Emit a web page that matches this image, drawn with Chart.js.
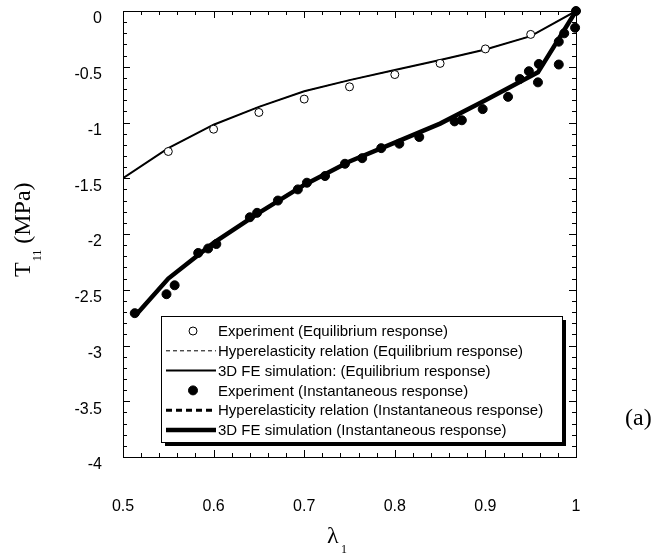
<!DOCTYPE html>
<html>
<head>
<meta charset="utf-8">
<script src="https://cdn.jsdelivr.net/npm/chart.js@4/dist/chart.umd.min.js"></script>
<style>
  body { margin: 0; background: #fff; }
  #wrap { width: 668px; height: 558px; }
</style>
</head>
<body>
<div id="wrap"><canvas id="stressChart" width="668" height="558"></canvas></div>
<script>
// Equilibrium response
var lambdaEqExp = [0.55, 0.6, 0.65, 0.7, 0.75, 0.8, 0.85, 0.9, 0.95, 1.0];
var stressEqExp = [-1.26, -1.06, -0.91, -0.79, -0.68, -0.57, -0.47, -0.34, -0.21, 0];

var lambdaEqSim = [0.5, 0.55, 0.6, 0.65, 0.7, 0.75, 0.8, 0.85, 0.9, 0.95, 1.0];
var stressEqHyper = [-1.5, -1.23, -1.02, -0.86, -0.72, -0.62, -0.53, -0.44, -0.345, -0.225, 0];
var stressEqFE = [-1.5, -1.23, -1.02, -0.86, -0.72, -0.62, -0.53, -0.44, -0.345, -0.225, 0];

// Instantaneous response
var lambdaInExp = [0.513, 0.548, 0.557, 0.583, 0.594, 0.603, 0.64, 0.648, 0.671, 0.693, 0.703,
                   0.723, 0.745, 0.764, 0.785, 0.805, 0.827, 0.866, 0.874, 0.897, 0.925, 0.938,
                   0.948, 0.958, 0.959, 0.981, 0.981, 0.987, 0.999, 1.0];
var stressInExp = [-2.71, -2.54, -2.46, -2.17, -2.13, -2.09, -1.85, -1.81, -1.70, -1.60, -1.54,
                   -1.48, -1.37, -1.32, -1.23, -1.19, -1.13, -0.99, -0.98, -0.88, -0.77, -0.61,
                   -0.54, -0.64, -0.475, -0.48, -0.275, -0.2, -0.15, 0];

var lambdaInSim = [0.515, 0.55, 0.6, 0.65, 0.7, 0.75, 0.8, 0.85, 0.9, 0.958, 1.0];
var stressInHyper = [-2.72, -2.40, -2.08, -1.81, -1.56, -1.35, -1.18, -1.01, -0.80, -0.55, 0];
var stressInFE = [-2.72, -2.40, -2.08, -1.81, -1.56, -1.35, -1.18, -1.01, -0.80, -0.55, 0];

var legendLabels = [
    'Experiment (Equilibrium response)',
    'Hyperelasticity relation (Equilibrium response)',
    '3D FE simulation: (Equilibrium response)',
    'Experiment (Instantaneous response)',
    'Hyperelasticity relation (Instantaneous response)',
    '3D FE simulation (Instantaneous response)'
];

function toPoints(xs, ys) {
    return xs.map((x, i) => ({ x: x, y: ys[i] }));
}

function fmt(v) {
    return String(parseFloat(Number(v).toFixed(2)));
}

// frame, inward ticks, axis titles, "(a)"
var framePlugin = {
    id: 'frame',
    afterDraw(chart) {
        var ctx = chart.ctx, a = chart.chartArea;
        var xs = chart.scales.x, ys = chart.scales.y;
        ctx.save();
        ctx.strokeStyle = '#000';
        ctx.lineWidth = 1;
        ctx.strokeRect(a.left + 0.5, a.top + 0.5, a.right - a.left, a.bottom - a.top);
        ctx.beginPath();
        for (var i = 0; i <= 25; i++) {
            var v = 0.5 + i * 0.02;
            var px = Math.round(xs.getPixelForValue(v)) + 0.5;
            var len = (i % 5 === 0) ? 7 : 4;
            ctx.moveTo(px, a.bottom); ctx.lineTo(px, a.bottom - len);
            ctx.moveTo(px, a.top); ctx.lineTo(px, a.top + len);
        }
        for (var j = 0; j <= 40; j++) {
            var w = -j * 0.1;
            var py = Math.round(ys.getPixelForValue(w)) + 0.5;
            var l2 = (j % 5 === 0) ? 7 : 4;
            ctx.moveTo(a.left, py); ctx.lineTo(a.left + l2, py);
            ctx.moveTo(a.right, py); ctx.lineTo(a.right - l2, py);
        }
        ctx.stroke();

        ctx.fillStyle = '#000';
        // x title
        ctx.font = '24px "Liberation Serif", "Times New Roman", serif';
        ctx.textBaseline = 'alphabetic';
        ctx.textAlign = 'left';
        ctx.fillText('\u03bb', 327, 543);
        ctx.font = '12px "Liberation Serif", "Times New Roman", serif';
        ctx.fillText('1', 341, 553);

        // y title
        ctx.save();
        ctx.translate(30, 277);
        ctx.rotate(-Math.PI / 2);
        ctx.font = '24px "Liberation Serif", "Times New Roman", serif';
        ctx.fillText('T', 0, 0);
        var tw = ctx.measureText('T').width;
        ctx.font = '12px "Liberation Serif", "Times New Roman", serif';
        ctx.fillText('11', tw + 1, 11);
        var sw = ctx.measureText('11').width;
        ctx.font = '24px "Liberation Serif", "Times New Roman", serif';
        ctx.fillText('(MPa)', tw + sw + 7, 0);
        ctx.restore();

        ctx.font = '24px "Liberation Serif", "Times New Roman", serif';
        ctx.fillText('(a)', 625, 425);
        ctx.restore();
    }
};

// boxed legend inside the plot, with drop shadow
var boxLegendPlugin = {
    id: 'boxLegend',
    afterDatasetsDraw(chart) {
        var ctx = chart.ctx;
        var bx = 161, by = 316, bw = 401, bh = 126;
        ctx.save();
        ctx.fillStyle = '#000';
        ctx.fillRect(bx + 4, by + 4, bw, bh);
        ctx.fillStyle = '#fff';
        ctx.fillRect(bx, by, bw, bh);
        ctx.strokeStyle = '#000';
        ctx.lineWidth = 1;
        ctx.strokeRect(bx + 0.5, by + 0.5, bw, bh);

        ctx.font = '15px "Liberation Sans", Arial, sans-serif';
        ctx.textBaseline = 'middle';
        chart.data.datasets.forEach((ds, i) => {
            var y = by + 15 + i * 19.8;
            if (ds.showLine) {
                ctx.beginPath();
                ctx.lineWidth = ds.borderWidth;
                ctx.setLineDash(ds.borderDash || []);
                ctx.moveTo(166, y);
                ctx.lineTo(216, y);
                ctx.strokeStyle = '#000';
                ctx.stroke();
                ctx.setLineDash([]);
            } else {
                ctx.beginPath();
                ctx.arc(193, y, ds.pointRadius, 0, Math.PI * 2);
                ctx.fillStyle = ds.pointBackgroundColor;
                ctx.fill();
                ctx.lineWidth = 1;
                ctx.strokeStyle = '#000';
                ctx.stroke();
            }
            ctx.fillStyle = '#000';
            ctx.fillText(ds.label, 218, y + 1);
        });
        ctx.restore();
    }
};

var ctx = document.getElementById('stressChart').getContext('2d');
new Chart(ctx, {
    type: 'scatter',
    data: {
        datasets: [{
            label: legendLabels[0],
            data: toPoints(lambdaEqExp, stressEqExp),
            pointRadius: 4,
            pointBackgroundColor: '#fff',
            pointBorderColor: '#000',
            pointBorderWidth: 1,
            showLine: false,
            clip: false,
            order: 2
        }, {
            label: legendLabels[1],
            data: toPoints(lambdaEqSim, stressEqHyper),
            showLine: true,
            borderColor: '#000',
            borderWidth: 1,
            borderDash: [4, 3],
            pointRadius: 0,
            tension: 0,
            order: 3
        }, {
            label: legendLabels[2],
            data: toPoints(lambdaEqSim, stressEqFE),
            showLine: true,
            borderColor: '#000',
            borderWidth: 2,
            pointRadius: 0,
            tension: 0,
            order: 3
        }, {
            label: legendLabels[3],
            data: toPoints(lambdaInExp, stressInExp),
            pointRadius: 4.5,
            pointBackgroundColor: '#000',
            pointBorderColor: '#000',
            pointBorderWidth: 1,
            showLine: false,
            clip: false,
            order: 0
        }, {
            label: legendLabels[4],
            data: toPoints(lambdaInSim, stressInHyper),
            showLine: true,
            borderColor: '#000',
            borderWidth: 3,
            borderDash: [6, 4],
            pointRadius: 0,
            tension: 0,
            order: 1
        }, {
            label: legendLabels[5],
            data: toPoints(lambdaInSim, stressInFE),
            showLine: true,
            borderColor: '#000',
            borderWidth: 4.5,
            pointRadius: 0,
            tension: 0,
            clip: false,
            order: 1
        }]
    },
    options: {
        responsive: false,
        animation: false,
        layout: {
            padding: { left: 0, top: 11, right: 92, bottom: 0 }
        },
        scales: {
            x: {
                type: 'linear',
                min: 0.5,
                max: 1,
                afterFit: (s) => { s.height = 101; s.paddingLeft = 0; s.paddingRight = 0; },
                grid: { display: false },
                border: { display: false },
                ticks: {
                    stepSize: 0.1,
                    padding: 32,
                    color: '#000',
                    maxRotation: 0,
                    font: { family: '"Liberation Sans", Arial, sans-serif', size: 16 },
                    callback: (v) => fmt(v)
                }
            },
            y: {
                type: 'linear',
                min: -4,
                max: 0,
                afterFit: (s) => { s.width = 123; s.paddingTop = 0; s.paddingBottom = 0; },
                grid: { display: false },
                border: { display: false },
                ticks: {
                    stepSize: 0.5,
                    padding: 13,
                    labelOffset: 8,
                    color: '#000',
                    font: { family: '"Liberation Sans", Arial, sans-serif', size: 16 },
                    callback: (v) => fmt(v)
                }
            }
        },
        plugins: {
            legend: { display: false },
            tooltip: { enabled: false }
        }
    },
    plugins: [framePlugin, boxLegendPlugin]
});
</script>
</body>
</html>
